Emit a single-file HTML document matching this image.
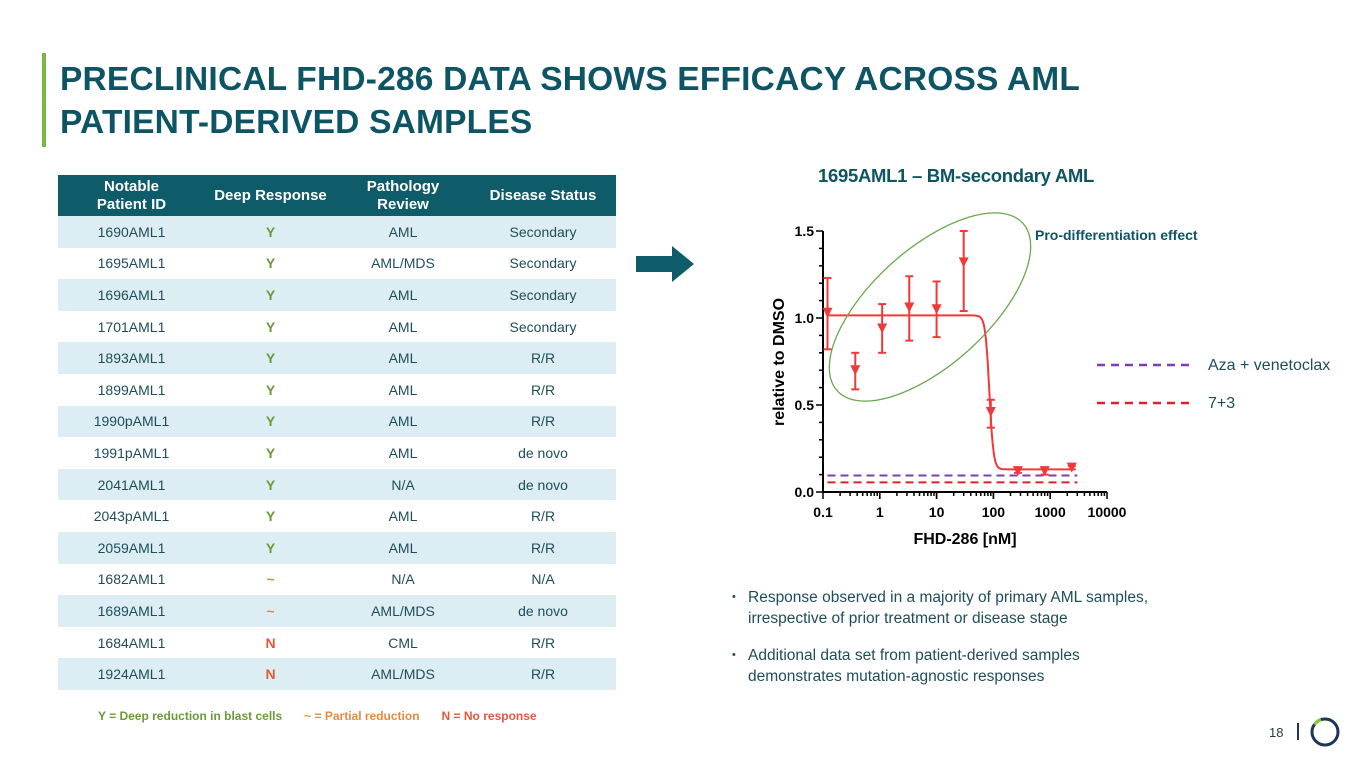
<!DOCTYPE html>
<html><head><meta charset="utf-8"><style>
body{margin:0;width:1365px;height:768px;background:#fff;font-family:"Liberation Sans",sans-serif;position:relative;overflow:hidden;}
.abs{position:absolute;}
h1{position:absolute;left:60px;top:58px;margin:0;font-size:33.5px;line-height:43px;font-weight:bold;color:#0d5565;letter-spacing:0.2px;}
table{position:absolute;left:58px;top:175px;border-collapse:collapse;width:558px;font-size:14px;color:#1e4e5a;}
th{background:#0e5b69;color:#fff;font-weight:bold;font-size:15px;height:41px;padding:0;line-height:18px;}
td{height:31.6px;text-align:center;padding:0;}
tbody tr:nth-child(odd) td{background:#dcedf4;}
.Y{color:#6a9b3a;font-weight:bold}.P{color:#e98a3f;font-weight:bold}.N{color:#e05a3c;font-weight:bold}
.bul{position:absolute;left:748px;font-size:15.5px;color:#1e4e5a;line-height:21px;}
.bul:before{content:"•";position:absolute;left:-16px;font-size:11px;}
</style></head><body>
<div class="abs" style="left:42px;top:53px;width:4px;height:94px;background:#7ab648"></div>
<h1>PRECLINICAL FHD-286 DATA SHOWS EFFICACY ACROSS AML<br>PATIENT-DERIVED SAMPLES</h1>
<table>
<thead><tr><th style="width:147px">Notable<br>Patient ID</th><th style="width:131px">Deep Response</th><th style="width:134px">Pathology<br>Review</th><th>Disease Status</th></tr></thead>
<tbody>
<tr><td>1690AML1</td><td class="Y">Y</td><td>AML</td><td>Secondary</td></tr>
<tr><td>1695AML1</td><td class="Y">Y</td><td>AML/MDS</td><td>Secondary</td></tr>
<tr><td>1696AML1</td><td class="Y">Y</td><td>AML</td><td>Secondary</td></tr>
<tr><td>1701AML1</td><td class="Y">Y</td><td>AML</td><td>Secondary</td></tr>
<tr><td>1893AML1</td><td class="Y">Y</td><td>AML</td><td>R/R</td></tr>
<tr><td>1899AML1</td><td class="Y">Y</td><td>AML</td><td>R/R</td></tr>
<tr><td>1990pAML1</td><td class="Y">Y</td><td>AML</td><td>R/R</td></tr>
<tr><td>1991pAML1</td><td class="Y">Y</td><td>AML</td><td>de novo</td></tr>
<tr><td>2041AML1</td><td class="Y">Y</td><td>N/A</td><td>de novo</td></tr>
<tr><td>2043pAML1</td><td class="Y">Y</td><td>AML</td><td>R/R</td></tr>
<tr><td>2059AML1</td><td class="Y">Y</td><td>AML</td><td>R/R</td></tr>
<tr><td>1682AML1</td><td class="P">~</td><td>N/A</td><td>N/A</td></tr>
<tr><td>1689AML1</td><td class="P">~</td><td>AML/MDS</td><td>de novo</td></tr>
<tr><td>1684AML1</td><td class="N">N</td><td>CML</td><td>R/R</td></tr>
<tr><td>1924AML1</td><td class="N">N</td><td>AML/MDS</td><td>R/R</td></tr>
</tbody></table>
<div class="abs" style="left:98px;top:709px;font-size:12px;font-weight:bold;white-space:nowrap;">
<span class="Y">Y = Deep reduction in blast cells</span><span style="display:inline-block;width:22px"></span><span class="P">~ = Partial reduction</span><span style="display:inline-block;width:22px"></span><span class="N">N = No response</span></div>
<svg class="abs" style="left:636px;top:246px" width="60" height="36"><polygon points="0,10 36,10 36,0 58,18 36,36 36,26 0,26" fill="#0e5b69"/></svg>
<div class="abs" style="left:818px;top:165px;font-size:18.5px;font-weight:bold;color:#0d5565;letter-spacing:-0.3px">1695AML1 – BM-secondary AML</div>
<svg id="chart" class="abs" style="left:0;top:0" width="1365" height="768"></svg>
<div class="bul" style="top:587px">Response observed in a majority of primary AML samples,<br>irrespective of prior treatment or disease stage</div>
<div class="bul" style="top:645px">Additional data set from patient-derived samples<br>demonstrates mutation-agnostic responses</div>
<div class="abs" style="left:1269px;top:725px;font-size:13px;color:#1e3a4a">18</div>
<div class="abs" style="left:1297px;top:723px;width:1.5px;height:17px;background:#1e3a4a"></div>
<svg class="abs" style="left:1309px;top:716px" width="32" height="32"><circle cx="16" cy="16" r="13" fill="none" stroke="#1d3557" stroke-width="3"/><path d="M5.5 8.5 A13 13 0 0 1 12 3.6" fill="none" stroke="#8cc63f" stroke-width="3.2"/></svg>
<script>
const doses=[0.12,0.37,1.1,3.3,10,30,90,270,800,2400];
const means=[1.03,0.70,0.94,1.06,1.05,1.32,0.46,0.12,0.12,0.14];
const errHi=[1.23,0.80,1.08,1.24,1.21,1.50,0.53,0.14,0.14,0.15];
const errLo=[0.82,0.59,0.80,0.87,0.89,1.04,0.37,0.11,0.10,0.13];
const fitTop=1.015,fitBottom=0.13,fitIC50=85,fitHill=12;
const azaVen=0.095,sevenThree=0.055;
const yTicks=[0,0.5,1.0,1.5];
const xTicks=[0.1,1,10,100,1000,10000];
const svg=document.getElementById('chart');const NS='http://www.w3.org/2000/svg';
const X0=823,X1=1107,Y0=492,Y1=231;
const xs=v=>X0+(Math.log10(v)+1)/5*(X1-X0);
const ys=v=>Y0-v/1.5*(Y0-Y1);
function mk(t,a,p){const e=document.createElementNS(NS,t);for(const k in a)e.setAttribute(k,a[k]);(p||svg).appendChild(e);return e;}
let ax=mk('line',{x1:X0,y1:Y1,x2:X0,y2:Y0+1,stroke:'#000','stroke-width':2});

let bx=mk('line',{x1:X0-1,y1:Y0,x2:X1,y2:Y0,stroke:'#000','stroke-width':2});

for(let i=0;i<=15;i++){const v=i*0.1;const maj=i%5==0;mk('line',{x1:X0-(maj?7:4),y1:ys(v),x2:X0,y2:ys(v),stroke:'#000','stroke-width':1.5});}
yTicks.forEach(v=>{const t=mk('text',{x:X0-9,y:ys(v)+5,'text-anchor':'end','font-size':14,'font-weight':'bold','font-family':'Liberation Sans Narrow, Liberation Sans, sans-serif'});t.textContent=v.toFixed(1);
});
for(let d=-1;d<4;d++)for(let m=1;m<=10;m++){const v=m*Math.pow(10,d);const maj=m==1||m==10;mk('line',{x1:xs(v),y1:Y0,x2:xs(v),y2:Y0+(maj?7:4),stroke:'#000','stroke-width':1.5});}
xTicks.forEach(v=>{const t=mk('text',{x:xs(v),y:Y0+25,'text-anchor':'middle','font-size':14,'font-weight':'bold','font-family':'Liberation Sans Narrow, Liberation Sans, sans-serif'});t.textContent=String(v);
});
let xt=mk('text',{x:965,y:544,'text-anchor':'middle','font-size':16,'font-weight':'bold'});xt.textContent='FHD-286 [nM]';

let yt=mk('text',{x:784,y:362,'text-anchor':'middle','font-size':16,'font-weight':'bold',transform:'rotate(-90 784 362)'});yt.textContent='relative to DMSO';

let l1=mk('line',{x1:xs(0.12),y1:ys(azaVen),x2:xs(3000),y2:ys(azaVen),stroke:'#7a3fb0','stroke-width':2,'stroke-dasharray':'8 5'});

let l2=mk('line',{x1:xs(0.12),y1:ys(sevenThree),x2:xs(3000),y2:ys(sevenThree),stroke:'#e0202a','stroke-width':2,'stroke-dasharray':'8 5'});

let pts=[];for(let l=Math.log10(0.12);l<=Math.log10(2400);l+=0.01){const v=Math.pow(10,l);const y=fitBottom+(fitTop-fitBottom)/(1+Math.pow(v/fitIC50,fitHill));pts.push(xs(v).toFixed(1)+','+ys(y).toFixed(1));}
let fc=mk('polyline',{points:pts.join(' '),fill:'none',stroke:'#f03a3a','stroke-width':2});

doses.forEach((d,i)=>{const g=mk('g',{});
const x=xs(d);mk('line',{x1:x,y1:ys(errHi[i]),x2:x,y2:ys(errLo[i]),stroke:'#f03a3a','stroke-width':2},g);
[errHi[i],errLo[i]].forEach(e=>mk('line',{x1:x-4,y1:ys(e),x2:x+4,y2:ys(e),stroke:'#f03a3a','stroke-width':2},g));
const y=ys(means[i]);mk('polygon',{points:`${x-5},${y-5} ${x+5},${y-5} ${x},${y+5}`,fill:'#f03a3a'},g);});
let el=mk('ellipse',{cx:930,cy:307,rx:125,ry:58,fill:'none',stroke:'#6aa84f','stroke-width':1.3,transform:'rotate(-42 930 307)'});

let an=mk('text',{x:1035,y:240,'font-size':14,'font-weight':'bold',fill:'#0d5565'});an.textContent='Pro-differentiation effect';

let g1=mk('g',{});
mk('line',{x1:1097,y1:365,x2:1192,y2:365,stroke:'#7a3fb0','stroke-width':2.5,'stroke-dasharray':'8 6'},g1);
mk('text',{x:1208,y:370,'font-size':16,fill:'#1e4e5a'},g1).textContent='Aza + venetoclax';
let g2=mk('g',{});
mk('line',{x1:1097,y1:403,x2:1192,y2:403,stroke:'#e0202a','stroke-width':2.5,'stroke-dasharray':'8 6'},g2);
mk('text',{x:1208,y:408,'font-size':16,fill:'#1e4e5a'},g2).textContent='7+3';
</script>
</body></html>
